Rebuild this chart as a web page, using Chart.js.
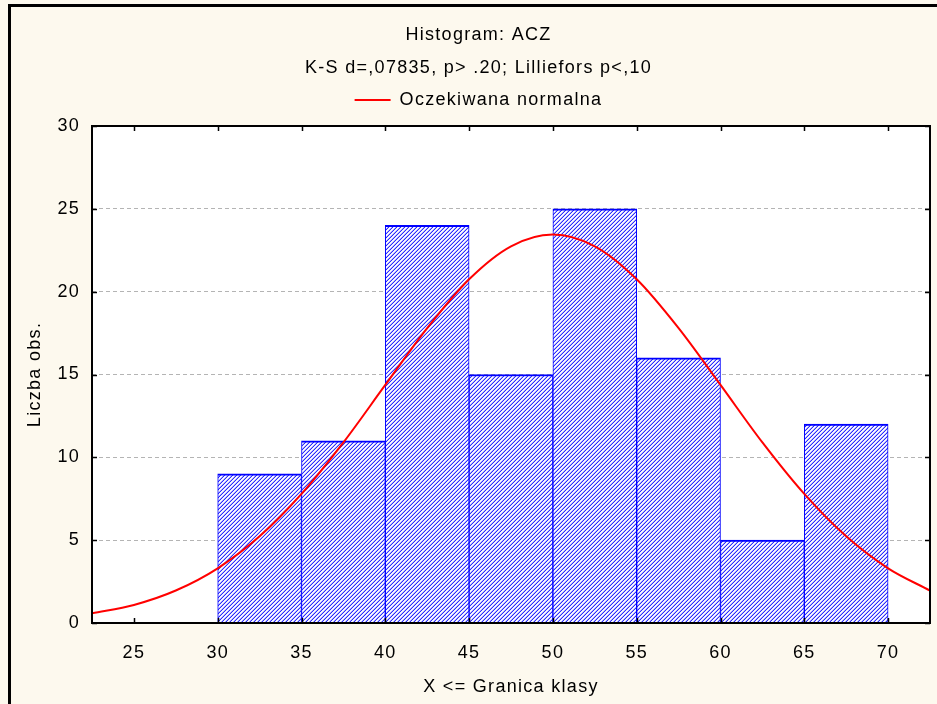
<!DOCTYPE html>
<html>
<head>
<meta charset="utf-8">
<script src="https://cdn.jsdelivr.net/npm/chart.js@4.4.0/dist/chart.umd.min.js"></script>
<style>
  html, body { margin: 0; padding: 0; background: #fdf9ee; }
  #wrap { width: 937px; height: 704px; }
</style>
</head>
<body>
<div id="wrap"><canvas id="myChart" width="937" height="704"></canvas></div>
<script>
// histogram classes (centre of each 5-wide class) and counts
const binCenters = [32.5, 37.5, 42.5, 47.5, 52.5, 57.5, 62.5, 67.5];
const binCounts = [9, 11, 24, 15, 25, 16, 5, 12];

// expected normal curve, every 2.5
const curveX = [22.5, 25, 27.5, 30, 32.5, 35, 37.5, 40, 42.5, 45, 47.5, 50,
                52.5, 55, 57.5, 60, 62.5, 65, 67.5, 70, 72.5];
const curveY = [0.58, 1.09, 1.96, 3.3, 5.23, 7.79, 10.9, 14.37, 17.8, 20.75, 22.74, 23.45,
                22.74, 20.75, 17.8, 14.37, 10.9, 7.79, 5.23, 3.3, 1.96];

const xTickValues = [25, 30, 35, 40, 45, 50, 55, 60, 65, 70];
const yTickValues = [0, 5, 10, 15, 20, 25, 30];
const xRange = [22.5, 72.5];
const yRange = [0, 30];

const titleText = 'Histogram: ACZ';
const subtitleText = 'K-S d=,07835, p> .20; Lilliefors p<,10';
const legendText = 'Oczekiwana normalna';
const xTitle = 'X <= Granica klasy';
const yTitle = 'Liczba obs.';

const canvas = document.getElementById('myChart');
const ctx = canvas.getContext('2d');

// blue diagonal hatch like the original
function makeHatch() {
  const c = document.createElement('canvas');
  c.width = 4; c.height = 4;
  const g = c.getContext('2d');
  g.fillStyle = '#ffffff';
  g.fillRect(0, 0, 4, 4);
  for (let x = 0; x < 4; x++) {
    for (let y = 0; y < 4; y++) {
      const k = (x + y) % 4;
      if (k === 3) { g.fillStyle = '#2c2cff'; g.fillRect(x, y, 1, 1); }
      else if (k === 2) { g.fillStyle = '#b0b0ff'; g.fillRect(x, y, 1, 1); }
      else if (k === 0) { g.fillStyle = '#ececff'; g.fillRect(x, y, 1, 1); }
    }
  }
  return ctx.createPattern(c, 'repeat');
}

Chart.defaults.font.family = '"Liberation Sans", Arial, sans-serif';
Chart.defaults.font.size = 18;
Chart.defaults.color = '#000';

const spacing = {
  id: 'spacing',
  beforeUpdate(chart) { chart.ctx.letterSpacing = '1.3px'; },
  beforeDraw(chart) { chart.ctx.letterSpacing = '1.3px'; }
};

const frame = {
  id: 'frame',
  beforeDraw(chart) {
    const c = chart.ctx, a = chart.chartArea;
    c.save();
    c.fillStyle = '#fdf9ee';
    c.fillRect(0, 0, chart.width, chart.height);
    c.fillStyle = '#ffffff';
    c.fillRect(a.left, a.top, a.right - a.left, a.bottom - a.top);
    c.strokeStyle = '#000';
    c.lineWidth = 3;
    c.strokeRect(9.5, 5.5, chart.width + 20, chart.height + 20);
    c.restore();
  },
  afterDraw(chart) {
    const c = chart.ctx, a = chart.chartArea;
    const xs = chart.scales.x, ys = chart.scales.y;
    c.save();
    c.strokeStyle = '#000';
    c.lineWidth = 2;
    c.strokeRect(a.left, a.top, a.right - a.left, a.bottom - a.top);
    c.lineWidth = 1.5;
    c.beginPath();
    xs.ticks.forEach(t => {
      const px = Math.round(xs.getPixelForValue(t.value)) + 0.5;
      c.moveTo(px, a.bottom); c.lineTo(px, a.bottom - 5);
      c.moveTo(px, a.top); c.lineTo(px, a.top + 5);
    });
    ys.ticks.forEach(t => {
      const py = Math.round(ys.getPixelForValue(t.value)) + 0.5;
      c.moveTo(a.left, py); c.lineTo(a.left + 5, py);
      c.moveTo(a.right, py); c.lineTo(a.right - 5, py);
    });
    c.stroke();
    c.restore();
  }
};

const histData = binCenters.map((x, i) => ({ x: x, y: binCounts[i] }));
const curveData = curveX.map((x, i) => ({ x: x, y: curveY[i] }));

let myChart = new Chart(canvas, {
  type: 'bar',
  data: {
    datasets: [
      {
        type: 'line',
        label: legendText,
        data: curveData,
        borderColor: '#ff0000',
        backgroundColor: '#ff0000',
        borderWidth: 2,
        pointRadius: 0,
        fill: false,
        cubicInterpolationMode: 'monotone',
        order: 0
      },
      {
        type: 'bar',
        label: 'hist',
        data: histData,
        backgroundColor: makeHatch(),
        borderColor: '#0000ff',
        borderWidth: { top: 2, left: 1, right: 1, bottom: 0 },
        borderSkipped: false,
        barPercentage: 1,
        categoryPercentage: 1,
        order: 1
      }
    ]
  },
  options: {
    responsive: false,
    animation: false,
    devicePixelRatio: 1,
    layout: { padding: { left: 27, right: 7, top: 0, bottom: 0 } },
    plugins: {
      title: {
        display: true,
        text: titleText,
        font: { size: 18, weight: 'normal' },
        padding: { top: 24, bottom: 0 }
      },
      subtitle: {
        display: true,
        text: subtitleText,
        color: '#000',
        font: { size: 18 },
        padding: { top: 11.6, bottom: 2.2 }
      },
      legend: {
        position: 'top',
        labels: {
          boxWidth: 36,
          boxHeight: 2,
          padding: 10,
          font: { size: 18 },
          filter: item => item.datasetIndex === 0,
          generateLabels(chart) {
            const items = Chart.defaults.plugins.legend.labels.generateLabels(chart);
            items.forEach(it => { it.lineWidth = 0; });
            return items;
          }
        }
      },
      tooltip: { enabled: false }
    },
    scales: {
      x: {
        type: 'linear',
        position: 'bottom',
        min: xRange[0],
        max: xRange[1],
        offset: false,
        grid: { display: false, offset: false },
        border: { display: false },
        ticks: { padding: 11, maxRotation: 0 },
        afterBuildTicks(scale) { scale.ticks = xTickValues.map(v => ({ value: v })); },
        title: { display: true, text: xTitle, padding: { top: 0, bottom: 6 } },
        afterFit(scale) { scale.height = 81; }
      },
      x2: {
        type: 'linear',
        position: 'top',
        axis: 'x',
        min: xRange[0],
        max: xRange[1],
        grid: { display: false },
        border: { display: false },
        ticks: { display: false },
        afterFit(scale) { scale.height = 7; }
      },
      y: {
        min: yRange[0],
        max: yRange[1],
        grid: {
          color: c2 => (c2.tick.value === yRange[0] || c2.tick.value === yRange[1]) ? 'rgba(0,0,0,0)' : '#b4b4b4',
          lineWidth: 1,
          drawTicks: false
        },
        border: { display: false, dash: [4, 3] },
        ticks: { padding: 12 },
        afterBuildTicks(scale) { scale.ticks = yTickValues.map(v => ({ value: v })); },
        title: { display: true, text: yTitle, padding: { top: -3, bottom: 0 } },
        afterFit(scale) { scale.width = 65; }
      }
    }
  },
  plugins: [spacing, frame]
});
</script>
</body>
</html>
